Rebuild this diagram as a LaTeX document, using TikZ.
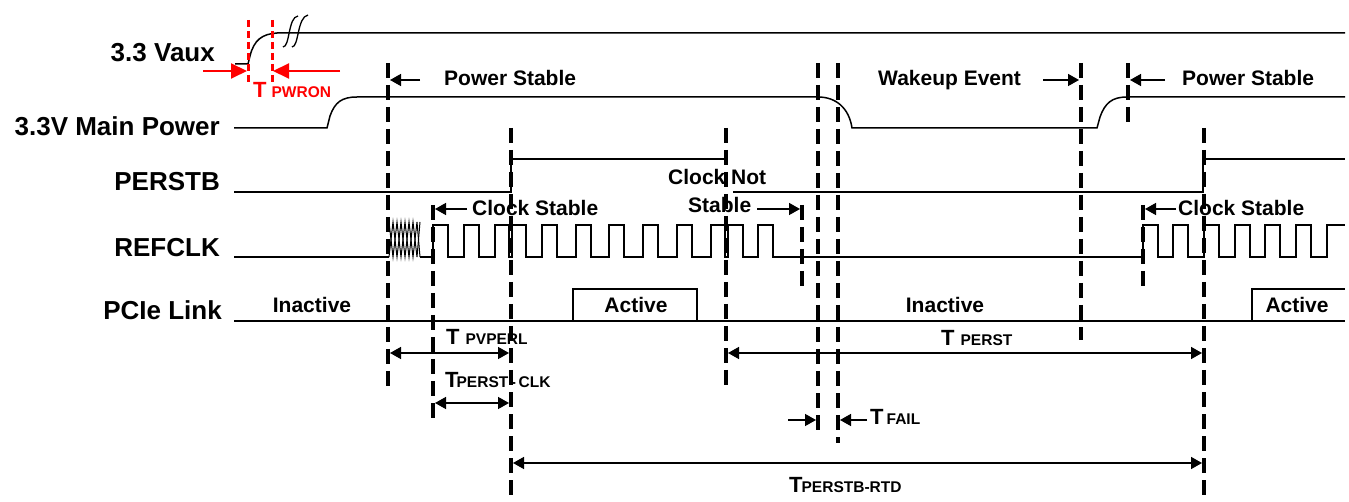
\documentclass[tikz,border=0pt]{standalone}
\usepackage{fontspec}
\setmainfont{Liberation Sans}
\usetikzlibrary{arrows.meta}
\newcommand\mytsub[3]{{\fontsize{22}{22}\selectfont T}\hspace{#1}{\fontsize{#3}{16}\selectfont #2}}
\begin{document}
\begin{tikzpicture}[x=1pt,y=-1pt,
  sig/.style={line width=1.5pt, line join=miter},
  vdash/.style={line width=3.4pt, dash pattern=on 15pt off 7pt},
  rdot/.style={red, line width=3pt, dash pattern=on 7pt off 4pt},
  arr/.style={line width=1.5pt, -{Triangle[length=11pt,width=12pt]}},
  darr/.style={line width=1.5pt, {Triangle[length=11pt,width=12pt]}-{Triangle[length=11pt,width=12pt]}},
  rarr/.style={red, line width=2pt, -{Triangle[length=16pt,width=15pt]}},
  lab/.style={font=\fontsize{26}{30}\selectfont\bfseries, anchor=base east, inner sep=0pt},
  small/.style={font=\fontsize{21}{24}\selectfont\bfseries, inner sep=0pt},
  tlab/.style={font=\bfseries, anchor=base west, inner sep=0pt}]
\useasboundingbox (0,0) rectangle (1349,502);

% signal names
\node[lab] (nvaux) at (215,62) {3.3 Vaux};
\node[lab] (nmain) at (220,136) {3.3V Main Power};
\node[lab] (nper) at (220,191) {PERSTB};
\node[lab] (nclk) at (220,257) {REFCLK};
\node[lab] (nlink) at (222,320) {PCIe Link};

% 3.3 Vaux
\draw[sig] (235,64) -- (248,64) -- (250,56) .. controls (254,40) and (262,34) .. (277,33) -- (1345,33);
\draw[line width=1.3pt] (283,47) .. controls (290,47) and (288,17) .. (298,16);
\draw[line width=1.3pt] (292,47) .. controls (299,47) and (297,17) .. (308,15);

% red T_PWRON
\draw[rdot] (248,20) -- (248,84);
\draw[rdot] (272,20) -- (272,84);
\draw[rarr] (203,71) -- (247,71);
\draw[rarr] (340,71) -- (273,71);
\node[tlab, text=red] (tpwron) at (253,98) {\mytsub{5pt}{PWRON}{15.5}};

% 3.3V Main Power
\draw[sig] (234,128) -- (327,128) -- (330,116) .. controls (335,102) and (342,97) .. (357,97)
  -- (818,97) .. controls (836,97) and (849,108) .. (852,128)
  -- (1097,128) -- (1100,117) .. controls (1105,103) and (1112,97) .. (1127,97) -- (1345,97);

% PERSTB
\draw[sig] (234,192) -- (511,192) -- (511,159) -- (726,159);
\draw[sig] (733,192) -- (1203,192) -- (1203,159) -- (1345,159);

% REFCLK
\draw[sig] (234,257) -- (389,257);
\draw[line width=1pt] (389,257) -- (393,222) -- (397,257) -- (401,222) -- (405,257) -- (409,222) -- (413,257) -- (417,222) -- (420,257);
\draw[line width=1pt] (389,222) -- (393,257) -- (397,222) -- (401,257) -- (405,222) -- (409,257) -- (413,222) -- (417,257) -- (420,222);
\draw[sig] (420,257) -- (433,257) -- (433,225) -- (448,225) -- (448,257) -- (464,257) -- (464,225) -- (479,225) -- (479,257)
  -- (495,257) -- (495,225) -- (509,225) -- (509,257) -- (512,257) -- (512,225) -- (526,225) -- (526,257)
  -- (542,257) -- (542,225) -- (557,225) -- (557,257) -- (576,257) -- (576,225) -- (591,225) -- (591,257)
  -- (609,257) -- (609,225) -- (624,225) -- (624,257) -- (643,257) -- (643,225) -- (658,225) -- (658,257)
  -- (677,257) -- (677,225) -- (692,225) -- (692,257) -- (711,257) -- (711,225) -- (725,225) -- (725,257)
  -- (728,257) -- (728,225) -- (743,225) -- (743,257) -- (758,257) -- (758,225) -- (773,225) -- (773,257)
  -- (1143,257) -- (1143,225) -- (1158,225) -- (1158,257) -- (1173,257) -- (1173,225) -- (1188,225) -- (1188,257)
  -- (1204,257) -- (1204,225) -- (1219,225) -- (1219,257) -- (1235,257) -- (1235,225) -- (1250,225) -- (1250,257)
  -- (1265,257) -- (1265,225) -- (1280,225) -- (1280,257) -- (1296,257) -- (1296,225) -- (1311,225) -- (1311,257)
  -- (1327,257) -- (1327,225) -- (1345,225);

% PCIe Link
\draw[sig] (234,321) -- (1345,321);
\draw[sig] (573,321) -- (573,289) -- (697,289) -- (697,321);
\draw[sig] (1252,321) -- (1252,289) -- (1345,289);
\node[small, anchor=base] (in1) at (312,313) {Inactive};
\node[small, anchor=base] (ac1) at (636,313) {Active};
\node[small, anchor=base] (in2) at (945,313) {Inactive};
\node[small, anchor=base] (ac2) at (1297,313) {Active};

% dashed markers
\draw[vdash] (388,63) -- (388,386);
\draw[vdash] (433,205) -- (433,418);
\draw[vdash] (511,128) -- (511,502);
\draw[vdash] (726,128) -- (726,386);
\draw[vdash] (802,205) -- (802,292);
\draw[vdash] (818,63) -- (818,436);
\draw[vdash] (838,63) -- (838,443);
\draw[vdash] (1081,63) -- (1081,340);
\draw[vdash] (1128,63) -- (1128,123);
\draw[vdash] (1143,205) -- (1143,290);
\draw[vdash] (1204,128) -- (1204,502);

% top annotations
\node[small, anchor=base west] (ps1) at (444,86) {Power Stable};
\draw[arr] (420,80) -- (390,80);
\node[small, anchor=base west] (wk) at (878,86) {Wakeup Event};
\draw[arr] (1043,80) -- (1079,80);
\node[small, anchor=base west] (ps2) at (1182,86) {Power Stable};
\draw[arr] (1165,80) -- (1130,80);

\node[small, anchor=base west] (cs1) at (472,216) {Clock Stable};
\draw[arr] (467,209) -- (435,209);
\node[small, anchor=base west] (cs2) at (1178,216) {Clock Stable};
\draw[arr] (1176,209) -- (1145,209);
\node[small, anchor=base west] (cns1) at (668,185) {Clock Not};
\node[small, anchor=base west] (cns2) at (688,213) {Stable};
\draw[arr] (757,209) -- (800,209);

% timing arrows
\node[tlab] (tpv) at (446,345) {\mytsub{6pt}{PVPERL}{15.5}};
\draw[darr] (390,353) -- (509,353);
\node[tlab] (tpc) at (445,388) {\mytsub{-2pt}{PERST\,-\,CLK}{15.5}};
\draw[darr] (435,403) -- (509,403);
\node[tlab] (tps) at (941,346) {\mytsub{6pt}{PERST}{15.5}};
\draw[darr] (728,353) -- (1202,353);
\node[tlab] (trtd) at (789,492) {\mytsub{-1pt}{PERSTB-RTD}{15.5}};
\draw[darr] (513,463) -- (1202,463);
\draw[arr] (788,420) -- (816,420);
\draw[arr] (867,420) -- (840,420);
\node[tlab] (tfail) at (870,424) {\mytsub{3pt}{FAIL}{15.5}};
\end{tikzpicture}
\end{document}
